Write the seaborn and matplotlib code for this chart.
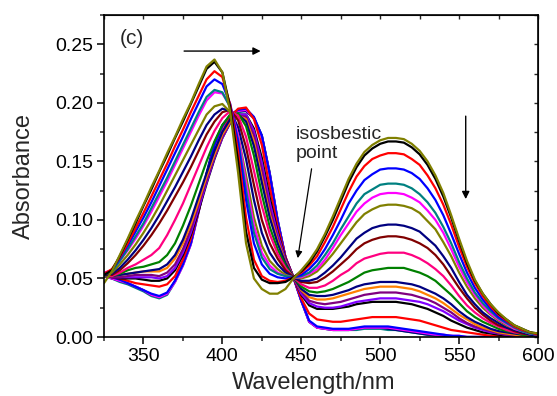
import matplotlib
matplotlib.use("Agg")
import matplotlib.pyplot as plt
from matplotlib.ticker import MultipleLocator, FormatStrFormatter
import seaborn as sns

# Wavelength grid (nm), 5 nm steps, shared by every spectrum
wavelength = list(range(325, 605, 5))

# Absorbance spectra recorded along the titration (first to last)
abs_01 = [0.046, 0.056, 0.070, 0.084, 0.099, 0.113, 0.128, 0.142, 0.157, 0.171, 0.186, 0.200, 0.216, 0.231, 0.237, 0.226, 0.192, 0.140, 0.080, 0.050, 0.041, 0.037, 0.037, 0.041, 0.050,
          0.057, 0.065, 0.075, 0.088, 0.103, 0.119, 0.135, 0.148, 0.158, 0.164, 0.168, 0.170, 0.170, 0.169, 0.165, 0.159, 0.150, 0.138, 0.123, 0.104, 0.084, 0.065, 0.049, 0.037, 0.028, 0.021, 0.015, 0.010, 0.007, 0.004, 0.003]
abs_02 = [0.053, 0.057, 0.069, 0.083, 0.097, 0.112, 0.126, 0.141, 0.155, 0.170, 0.184, 0.199, 0.214, 0.229, 0.235, 0.226, 0.196, 0.150, 0.090, 0.059, 0.049, 0.046, 0.046, 0.047, 0.051,
          0.056, 0.063, 0.073, 0.086, 0.100, 0.116, 0.132, 0.145, 0.155, 0.161, 0.165, 0.167, 0.167, 0.166, 0.162, 0.156, 0.147, 0.135, 0.120, 0.102, 0.082, 0.063, 0.048, 0.037, 0.028, 0.020, 0.015, 0.010, 0.007, 0.004, 0.003]
abs_03 = [0.054, 0.058, 0.068, 0.080, 0.093, 0.106, 0.120, 0.134, 0.148, 0.163, 0.177, 0.192, 0.206, 0.220, 0.227, 0.222, 0.198, 0.158, 0.102, 0.066, 0.052, 0.048, 0.047, 0.048, 0.051,
          0.055, 0.061, 0.069, 0.081, 0.094, 0.109, 0.124, 0.137, 0.146, 0.152, 0.155, 0.157, 0.157, 0.156, 0.152, 0.147, 0.138, 0.127, 0.113, 0.096, 0.077, 0.060, 0.046, 0.035, 0.026, 0.019, 0.014, 0.009, 0.006, 0.004, 0.002]
abs_04 = [0.054, 0.057, 0.067, 0.078, 0.090, 0.102, 0.115, 0.129, 0.143, 0.157, 0.171, 0.186, 0.200, 0.214, 0.220, 0.216, 0.199, 0.166, 0.117, 0.080, 0.062, 0.054, 0.051, 0.050, 0.051,
          0.053, 0.058, 0.065, 0.075, 0.087, 0.100, 0.114, 0.125, 0.134, 0.139, 0.143, 0.144, 0.144, 0.143, 0.140, 0.135, 0.127, 0.117, 0.104, 0.088, 0.071, 0.055, 0.042, 0.032, 0.024, 0.017, 0.013, 0.009, 0.006, 0.004, 0.002]
abs_05 = [0.054, 0.056, 0.065, 0.075, 0.086, 0.097, 0.110, 0.123, 0.136, 0.150, 0.164, 0.178, 0.192, 0.205, 0.211, 0.209, 0.196, 0.168, 0.125, 0.089, 0.068, 0.058, 0.054, 0.052, 0.051,
          0.052, 0.055, 0.061, 0.070, 0.080, 0.092, 0.103, 0.114, 0.122, 0.126, 0.130, 0.131, 0.131, 0.130, 0.127, 0.122, 0.115, 0.106, 0.094, 0.080, 0.064, 0.050, 0.038, 0.029, 0.022, 0.016, 0.012, 0.008, 0.005, 0.003, 0.002]
abs_06 = [0.055, 0.057, 0.065, 0.074, 0.084, 0.095, 0.107, 0.120, 0.133, 0.147, 0.161, 0.175, 0.189, 0.202, 0.209, 0.208, 0.197, 0.172, 0.132, 0.095, 0.072, 0.061, 0.055, 0.052, 0.051,
          0.051, 0.054, 0.058, 0.066, 0.076, 0.087, 0.097, 0.107, 0.114, 0.119, 0.122, 0.123, 0.123, 0.122, 0.119, 0.115, 0.108, 0.100, 0.089, 0.075, 0.060, 0.047, 0.036, 0.027, 0.020, 0.015, 0.011, 0.007, 0.005, 0.003, 0.002]
abs_07 = [0.054, 0.055, 0.062, 0.070, 0.079, 0.089, 0.100, 0.112, 0.125, 0.138, 0.151, 0.164, 0.177, 0.190, 0.197, 0.199, 0.192, 0.172, 0.138, 0.102, 0.078, 0.065, 0.058, 0.053, 0.051,
          0.050, 0.052, 0.056, 0.063, 0.071, 0.080, 0.089, 0.098, 0.105, 0.109, 0.112, 0.113, 0.113, 0.112, 0.110, 0.106, 0.099, 0.092, 0.081, 0.069, 0.055, 0.043, 0.033, 0.025, 0.019, 0.014, 0.010, 0.007, 0.005, 0.003, 0.002]
abs_08 = [0.053, 0.054, 0.059, 0.066, 0.074, 0.083, 0.093, 0.104, 0.116, 0.128, 0.141, 0.154, 0.168, 0.181, 0.190, 0.195, 0.193, 0.179, 0.152, 0.117, 0.089, 0.072, 0.062, 0.055, 0.051,
          0.048, 0.048, 0.050, 0.055, 0.061, 0.068, 0.076, 0.084, 0.089, 0.093, 0.095, 0.096, 0.096, 0.095, 0.093, 0.090, 0.084, 0.078, 0.069, 0.059, 0.047, 0.036, 0.028, 0.021, 0.016, 0.012, 0.008, 0.006, 0.004, 0.002, 0.001]
abs_09 = [0.053, 0.053, 0.057, 0.063, 0.070, 0.078, 0.087, 0.097, 0.108, 0.120, 0.132, 0.145, 0.159, 0.173, 0.184, 0.192, 0.194, 0.185, 0.162, 0.130, 0.100, 0.080, 0.067, 0.057, 0.051,
          0.047, 0.046, 0.047, 0.051, 0.056, 0.062, 0.068, 0.075, 0.080, 0.083, 0.085, 0.086, 0.086, 0.085, 0.083, 0.080, 0.076, 0.070, 0.062, 0.052, 0.042, 0.033, 0.025, 0.019, 0.014, 0.010, 0.008, 0.005, 0.003, 0.002, 0.001]
abs_10 = [0.053, 0.052, 0.055, 0.059, 0.062, 0.066, 0.070, 0.076, 0.087, 0.100, 0.114, 0.130, 0.146, 0.162, 0.176, 0.187, 0.193, 0.189, 0.171, 0.142, 0.112, 0.088, 0.071, 0.059, 0.051,
          0.045, 0.042, 0.042, 0.044, 0.048, 0.053, 0.057, 0.063, 0.067, 0.069, 0.071, 0.072, 0.072, 0.072, 0.070, 0.067, 0.063, 0.058, 0.052, 0.044, 0.035, 0.027, 0.021, 0.016, 0.012, 0.009, 0.006, 0.004, 0.003, 0.002, 0.001]
abs_11 = [0.052, 0.052, 0.054, 0.057, 0.059, 0.060, 0.062, 0.064, 0.070, 0.080, 0.095, 0.112, 0.131, 0.150, 0.167, 0.181, 0.190, 0.191, 0.180, 0.155, 0.122, 0.094, 0.075, 0.061, 0.051,
          0.043, 0.039, 0.038, 0.039, 0.041, 0.044, 0.047, 0.051, 0.055, 0.057, 0.058, 0.059, 0.059, 0.059, 0.057, 0.055, 0.052, 0.048, 0.042, 0.036, 0.029, 0.022, 0.017, 0.013, 0.010, 0.007, 0.005, 0.004, 0.002, 0.001, 0.001]
abs_12 = [0.052, 0.052, 0.053, 0.054, 0.055, 0.056, 0.057, 0.058, 0.062, 0.070, 0.083, 0.100, 0.120, 0.140, 0.159, 0.175, 0.186, 0.190, 0.184, 0.163, 0.132, 0.102, 0.080, 0.063, 0.051,
          0.041, 0.036, 0.035, 0.035, 0.036, 0.038, 0.040, 0.043, 0.045, 0.046, 0.047, 0.047, 0.047, 0.046, 0.045, 0.043, 0.040, 0.037, 0.033, 0.028, 0.022, 0.017, 0.013, 0.010, 0.007, 0.005, 0.004, 0.003, 0.002, 0.001, 0.000]
abs_13 = [0.052, 0.052, 0.053, 0.054, 0.055, 0.056, 0.056, 0.056, 0.059, 0.067, 0.080, 0.096, 0.116, 0.137, 0.156, 0.173, 0.184, 0.189, 0.186, 0.167, 0.136, 0.105, 0.082, 0.064, 0.051,
          0.040, 0.034, 0.032, 0.032, 0.033, 0.035, 0.037, 0.039, 0.041, 0.042, 0.043, 0.043, 0.043, 0.042, 0.041, 0.039, 0.036, 0.033, 0.029, 0.024, 0.019, 0.015, 0.011, 0.008, 0.006, 0.004, 0.003, 0.002, 0.001, 0.001, 0.000]
abs_14 = [0.052, 0.051, 0.051, 0.052, 0.053, 0.053, 0.053, 0.052, 0.055, 0.062, 0.075, 0.092, 0.113, 0.134, 0.154, 0.171, 0.183, 0.189, 0.188, 0.172, 0.143, 0.110, 0.085, 0.065, 0.051,
          0.039, 0.031, 0.029, 0.028, 0.029, 0.030, 0.032, 0.034, 0.036, 0.037, 0.038, 0.038, 0.038, 0.037, 0.036, 0.034, 0.032, 0.029, 0.025, 0.021, 0.016, 0.012, 0.009, 0.007, 0.005, 0.003, 0.002, 0.001, 0.001, 0.000, 0.000]
abs_15 = [0.052, 0.051, 0.051, 0.051, 0.051, 0.051, 0.051, 0.050, 0.052, 0.059, 0.072, 0.089, 0.110, 0.132, 0.153, 0.170, 0.183, 0.190, 0.190, 0.176, 0.149, 0.115, 0.088, 0.066, 0.051,
          0.037, 0.029, 0.026, 0.025, 0.025, 0.026, 0.028, 0.030, 0.031, 0.032, 0.033, 0.033, 0.033, 0.032, 0.031, 0.030, 0.028, 0.025, 0.022, 0.018, 0.014, 0.011, 0.008, 0.006, 0.004, 0.003, 0.002, 0.001, 0.001, 0.000, 0.000]
abs_16 = [0.053, 0.051, 0.050, 0.050, 0.050, 0.049, 0.048, 0.048, 0.050, 0.057, 0.070, 0.087, 0.108, 0.131, 0.152, 0.170, 0.183, 0.190, 0.190, 0.178, 0.153, 0.119, 0.090, 0.067, 0.051,
          0.036, 0.027, 0.024, 0.024, 0.024, 0.025, 0.026, 0.028, 0.029, 0.030, 0.030, 0.030, 0.030, 0.029, 0.028, 0.026, 0.024, 0.021, 0.018, 0.014, 0.011, 0.008, 0.006, 0.004, 0.003, 0.002, 0.001, 0.000, 0.000, 0.000, 0.000]
abs_17 = [0.054, 0.051, 0.050, 0.048, 0.046, 0.045, 0.044, 0.043, 0.045, 0.052, 0.066, 0.084, 0.108, 0.134, 0.157, 0.175, 0.188, 0.195, 0.196, 0.186, 0.164, 0.128, 0.094, 0.068, 0.051,
          0.033, 0.020, 0.015, 0.014, 0.013, 0.013, 0.014, 0.015, 0.016, 0.017, 0.017, 0.017, 0.017, 0.016, 0.015, 0.014, 0.012, 0.010, 0.008, 0.006, 0.005, 0.004, 0.003, 0.002, 0.001, 0.001, 0.000, 0.000, 0.000, 0.000, 0.000]
abs_18 = [0.053, 0.051, 0.049, 0.046, 0.043, 0.040, 0.037, 0.035, 0.038, 0.048, 0.062, 0.080, 0.108, 0.138, 0.164, 0.180, 0.190, 0.194, 0.195, 0.188, 0.172, 0.139, 0.099, 0.068, 0.051,
          0.031, 0.014, 0.009, 0.008, 0.007, 0.007, 0.007, 0.008, 0.009, 0.009, 0.009, 0.009, 0.008, 0.007, 0.006, 0.005, 0.004, 0.003, 0.002, 0.001, 0.001, 0.000, 0.000, 0.000, 0.000, 0.000, 0.000, 0.000, 0.000, 0.000, 0.000]
abs_19 = [0.052, 0.050, 0.048, 0.046, 0.043, 0.040, 0.036, 0.034, 0.037, 0.047, 0.061, 0.079, 0.107, 0.137, 0.163, 0.179, 0.189, 0.193, 0.194, 0.187, 0.171, 0.139, 0.099, 0.068, 0.051,
          0.031, 0.013, 0.008, 0.007, 0.006, 0.006, 0.006, 0.007, 0.008, 0.008, 0.008, 0.008, 0.007, 0.006, 0.005, 0.004, 0.003, 0.002, 0.002, 0.001, 0.001, 0.000, 0.000, 0.000, 0.000, 0.000, 0.000, 0.000, 0.000, 0.000, 0.000]
abs_20 = [0.052, 0.050, 0.048, 0.046, 0.043, 0.040, 0.036, 0.034, 0.037, 0.048, 0.062, 0.080, 0.108, 0.140, 0.166, 0.181, 0.189, 0.193, 0.193, 0.187, 0.172, 0.140, 0.100, 0.068, 0.051,
          0.031, 0.013, 0.008, 0.007, 0.006, 0.006, 0.006, 0.007, 0.008, 0.008, 0.008, 0.007, 0.006, 0.005, 0.004, 0.003, 0.002, 0.002, 0.001, 0.001, 0.000, 0.000, 0.000, 0.000, 0.000, 0.000, 0.000, 0.000, 0.000, 0.000, 0.000]
abs_21 = [0.052, 0.050, 0.047, 0.045, 0.042, 0.039, 0.035, 0.033, 0.036, 0.047, 0.061, 0.079, 0.107, 0.139, 0.165, 0.180, 0.188, 0.192, 0.193, 0.187, 0.172, 0.140, 0.100, 0.068, 0.051,
          0.031, 0.013, 0.008, 0.007, 0.006, 0.006, 0.006, 0.006, 0.007, 0.007, 0.007, 0.006, 0.006, 0.005, 0.004, 0.003, 0.002, 0.001, 0.001, 0.000, 0.000, 0.000, 0.000, 0.000, 0.000, 0.000, 0.000, 0.000, 0.000, 0.000, 0.000]

spectra = [abs_01, abs_02, abs_03, abs_04, abs_05, abs_06, abs_07, abs_08, abs_09, abs_10,
           abs_11, abs_12, abs_13, abs_14, abs_15, abs_16, abs_17, abs_18, abs_19, abs_20, abs_21]

line_colors = ["#808000", "#000000", "#FF0000", "#0000FF", "#008080", "#FF00FF", "#808000",
               "#000080", "#800000", "#FF0080", "#008000", "#000080", "#FF8000", "#800080",
               "#8000FF", "#000000", "#FF0000", "#0000FF", "#FF00FF", "#000080", "#008080"]

x_ticks = [350, 400, 450, 500, 550, 600]
y_ticks = [0.00, 0.05, 0.10, 0.15, 0.20, 0.25]

sns.set_style("ticks")
plt.rcParams["font.family"] = ["Liberation Sans", "DejaVu Sans"]

fig = plt.figure(figsize=(5.57, 3.96), dpi=100)
ax = fig.add_axes([104 / 557, 59 / 396, 434 / 557, 322 / 396])

# later spectra underneath, first spectrum on top
for vals, col in reversed(list(zip(spectra, line_colors))):
    sns.lineplot(x=wavelength, y=vals, color=col, linewidth=1.6, ax=ax,
                 legend=False, sort=False)

ax.set_xlim(325, 600)
ax.set_ylim(0, 0.275)
ax.set_xticks(x_ticks)
ax.set_yticks(y_ticks)
ax.xaxis.set_minor_locator(MultipleLocator(25))
ax.yaxis.set_minor_locator(MultipleLocator(0.025))
ax.yaxis.set_major_formatter(FormatStrFormatter("%.2f"))
ax.tick_params(which="major", direction="out", length=5, width=1.1, labelsize=14,
               colors="black", pad=3)
ax.tick_params(which="minor", direction="out", length=3, width=1.1)
for side in ax.spines.values():
    side.set_linewidth(1.2)
    side.set_color("black")

top = ax.secondary_xaxis("top")
top.set_xticks(x_ticks)
top.xaxis.set_minor_locator(MultipleLocator(25))
top.tick_params(which="both", direction="in", length=3, width=1.0, labeltop=False)
right = ax.secondary_yaxis("right")
right.set_yticks(y_ticks)
right.yaxis.set_minor_locator(MultipleLocator(0.025))
right.tick_params(which="both", direction="in", length=3, width=1.0, labelright=False)

ax.set_xlabel("Wavelength/nm", fontsize=17)
ax.set_ylabel("Absorbance", fontsize=17)
ax.xaxis.set_label_coords(0.482, -0.11)
ax.yaxis.set_label_coords(-0.158, 0.5)

ax.text(342.5, 0.255, "(c)", fontsize=15, ha="center", va="center")
ax.annotate("", xy=(426, 0.2442), xytext=(374, 0.2442),
            arrowprops=dict(arrowstyle="-|>", color="black", lw=1.0, mutation_scale=11))
ax.annotate("", xy=(554.2, 0.1154), xytext=(554.2, 0.191),
            arrowprops=dict(arrowstyle="-|>", color="black", lw=1.0, mutation_scale=11))
ax.text(446.2, 0.1527, "isosbestic\npoint", fontsize=14, ha="left", va="baseline",
        linespacing=1.2)
ax.annotate("", xy=(447.5, 0.065), xytext=(456.8, 0.146),
            arrowprops=dict(arrowstyle="-|>", color="black", lw=0.9, mutation_scale=10))

fig.savefig("out.png", dpi=100)
